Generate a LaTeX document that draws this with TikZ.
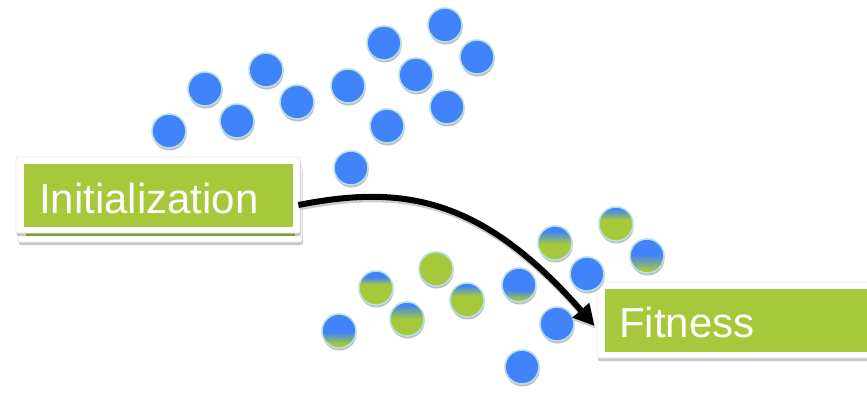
\documentclass[tikz,border=0pt]{standalone}
\usepackage{fontspec}
\setmainfont{Liberation Sans}
\usetikzlibrary{shadows,arrows.meta}

\definecolor{leafgreen}{HTML}{A5C93B}
\definecolor{dotblue}{HTML}{4083FA}
\definecolor{rimcyan}{HTML}{B6E0E6}

% vertical blend: green up to #2, blue from #3 (bp, circle spans 25bp..75bp)
\newcommand\blendshade[3]{%
  \pgfdeclareverticalshading{#1}{100bp}{color(0bp)=(leafgreen); color(#2bp)=(leafgreen); color(#3bp)=(dotblue); color(100bp)=(dotblue)}}
\blendshade{mixA}{31}{48}
\blendshade{mixB}{55}{66}
\blendshade{mixC}{50}{71}
\blendshade{mixD}{56}{71}
\blendshade{mixE}{28}{43}
\blendshade{mixF}{49}{67}
\blendshade{mixG}{56}{72}
\blendshade{mixH}{29}{52}

\tikzset{
  dot/.style={circle, minimum size=34pt, inner sep=0pt, draw=rimcyan, line width=1.6pt,
    drop shadow={shadow xshift=0.6pt, shadow yshift=-2.5pt, opacity=0.25, fill=black}},
  bluedot/.style={dot, fill=dotblue},
  greendot/.style={dot, fill=leafgreen},
  mixdot/.style={dot, shade, shading=#1},
  whitebox/.style={rectangle, rounded corners=2pt, fill=white, draw=black!9, line width=0.8pt,
    minimum width=284pt, minimum height=76pt, inner sep=0pt,
    drop shadow={shadow xshift=0.8pt, shadow yshift=-3pt, opacity=0.22, fill=black}},
  greenpanel/.style={rectangle, fill=leafgreen, minimum width=269pt, minimum height=63pt, inner sep=0pt},
  boxtext/.style={text=white, font=\fontsize{42}{42}\selectfont, anchor=base west, inner sep=0pt},
  flow/.style={line width=6pt, -{Triangle[length=21pt,width=21pt]},
    preaction={draw=black!20, line width=6pt, transform canvas={xshift=0.8pt, yshift=-2.5pt}}}
}

\begin{document}
\begin{tikzpicture}[x=1pt, y=-1pt]
\useasboundingbox (0,0) rectangle (867,393);
\clip (0,0) rectangle (867,393);

% Initialization card, stacked on a second card
\node[whitebox] (initback) at (160,204) {};
\node[greenpanel] (initbackpanel) at (160.5,204.5) {};
\node[whitebox] (initbox) at (158,195) {};
\node[greenpanel] (initpanel) at (158.5,195.5) {};
\node[boxtext] (inittext) at (39,213) {Initialization};

% Fitness card
\node[whitebox] (fitbox) at (739,320) {};
\node[greenpanel] (fitpanel) at (739.5,320.5) {};
\node[boxtext] (fittext) at (619,337) {Fitness};

% initial population
\node[bluedot] (p1) at (169,131) {};
\node[bluedot] (p2) at (205,89) {};
\node[bluedot] (p3) at (237,121) {};
\node[bluedot] (p4) at (266,70) {};
\node[bluedot] (p5) at (297,102) {};
\node[bluedot] (p6) at (348,86) {};
\node[bluedot] (p7) at (384,43) {};
\node[bluedot] (p8) at (416,75) {};
\node[bluedot] (p9) at (445,25) {};
\node[bluedot] (p10) at (477,57) {};
\node[bluedot] (p11) at (387,126) {};
\node[bluedot] (p12) at (447,107) {};
\node[bluedot] (p13) at (351,168) {};

% evaluated population
\node[mixdot=mixA] (q1) at (339,331) {};
\node[mixdot=mixB] (q2) at (376,288) {};
\node[mixdot=mixC] (q3) at (407,319) {};
\node[greendot] (q4) at (436,269) {};
\node[mixdot=mixD] (q5) at (467,300) {};
\node[mixdot=mixE] (q6) at (519,285) {};
\node[mixdot=mixF] (q7) at (555,243) {};
\node[bluedot] (q8) at (587,274) {};
\node[mixdot=mixG] (q9) at (616,224) {};
\node[mixdot=mixH] (q10) at (647,256) {};
\node[bluedot] (q11) at (557,324) {};
\node[bluedot] (q12) at (522,367) {};

% transition arrow
\draw[flow] ([xshift=-2pt,yshift=-10pt]initbox.east)
  .. controls (400,185) and (480,195) .. ([xshift=-2pt,yshift=-6pt]fitbox.west);
\end{tikzpicture}
\end{document}
